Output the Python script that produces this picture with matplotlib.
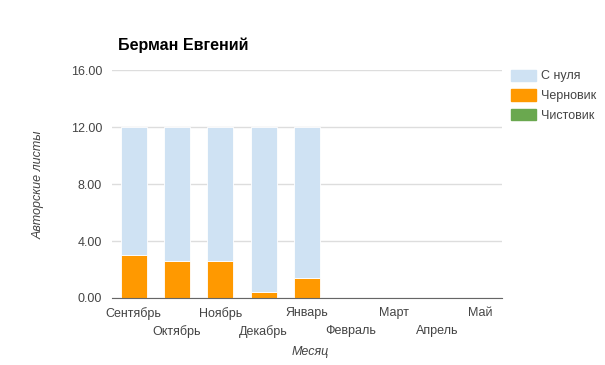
import matplotlib
matplotlib.use("Agg")
import matplotlib.pyplot as plt
import matplotlib.patches as mpatches
import numpy as np

plt.rcParams["font.family"] = ["Liberation Sans", "DejaVu Sans"]

months = ["Сентябрь", "Октябрь", "Ноябрь", "Декабрь", "Январь",
          "Февраль", "Март", "Апрель", "Май"]
draft = [3.0, 2.6, 2.6, 0.45, 1.4, 0, 0, 0, 0]          # Черновик
from_zero = [9.0, 9.4, 9.4, 11.55, 10.6, 0, 0, 0, 0]    # С нуля
clean = [0, 0, 0, 0, 0, 0, 0, 0, 0]                      # Чистовик
y_ticks = [0, 4, 8, 12, 16]

C_ZERO = "#cfe2f3"
C_DRAFT = "#ff9900"
C_CLEAN = "#6aa84f"
TXT = "#444444"

fig = plt.figure(figsize=(6.05, 3.65), dpi=100, facecolor="white")
ax = fig.add_axes([0.185, 0.1836, 0.645, 0.6244])

x = np.arange(len(months))
w = 0.6
ax.bar(x, draft, width=w, color=C_DRAFT, edgecolor="white", linewidth=0.6, zorder=3)
ax.bar(x, from_zero, width=w, bottom=draft, color=C_ZERO, edgecolor="white", linewidth=0.6, zorder=3)
ax.bar(x, clean, width=w, bottom=np.add(draft, from_zero), color=C_CLEAN, linewidth=0, zorder=3)

ax.set_xlim(-0.5, len(months) - 0.5)
ax.set_ylim(0, 16)
ax.set_yticks(y_ticks)
ax.set_yticklabels([f"{v:.2f}" for v in y_ticks], fontsize=9, color=TXT)
ax.yaxis.grid(True, color="#dddddd", linewidth=1, zorder=0)
ax.tick_params(axis="y", length=0, pad=7)
ax.tick_params(axis="x", length=0)
for s in ["top", "right", "left"]:
    ax.spines[s].set_visible(False)
ax.spines["bottom"].set_color("#666666")
ax.spines["bottom"].set_zorder(4)

ax.set_xticks(x)
ax.set_xticklabels([])
for i, m in enumerate(months):
    off = -0.04 if i % 2 == 0 else -0.118
    ax.text(i, off, m, transform=ax.get_xaxis_transform(), ha="center", va="top",
            fontsize=9, color=TXT)

fig.text(0.512, 0.018, "Месяц", ha="center", va="bottom", fontsize=9, style="italic", color=TXT)
fig.text(0.064, 0.495, "Авторские листы", ha="center", va="center", rotation=90,
         fontsize=9, style="italic", color=TXT)
fig.text(0.195, 0.877, "Берман Евгений", ha="left", va="center", fontsize=11.5,
         fontweight="bold", color="black")

handles = [mpatches.Patch(color=C_ZERO, label="С нуля"),
           mpatches.Patch(color=C_DRAFT, label="Черновик"),
           mpatches.Patch(color=C_CLEAN, label="Чистовик")]
fig.legend(handles=handles, loc="upper left", bbox_to_anchor=(0.836, 0.823), frameon=False,
           fontsize=9, labelcolor=TXT, handlelength=2.0, handleheight=1.0,
           handletextpad=0.45, labelspacing=0.55, borderaxespad=0)

fig.savefig("out.png", dpi=100, facecolor="white")
